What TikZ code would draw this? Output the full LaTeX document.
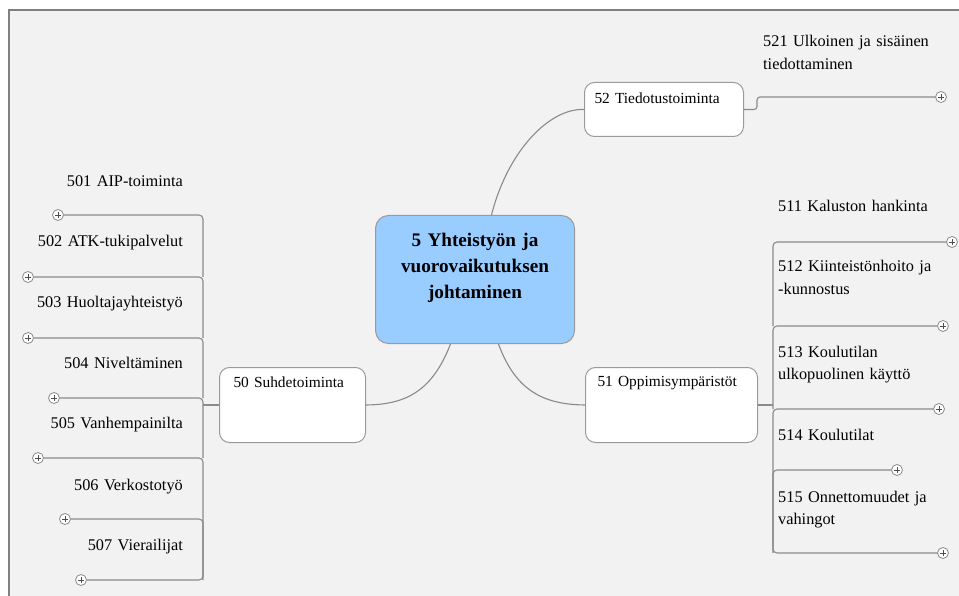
\documentclass[tikz,border=0pt]{standalone}
\usepackage{fontspec}
\setmainfont{Liberation Serif}
\usetikzlibrary{calc}

\definecolor{linegray}{HTML}{8A8A8A}
\definecolor{boxgray}{HTML}{9A9A9A}
\definecolor{hubblue}{HTML}{99CCFF}
\definecolor{canvasgray}{HTML}{F2F2F2}
\definecolor{framegray}{HTML}{808080}

\tikzset{
  branch/.style={draw=linegray, line width=1.1pt},
  hubbox/.style={draw=boxgray, fill=hubblue, rounded corners=13pt, line width=1pt,
    inner xsep=10pt, inner ysep=0pt, text width=179pt, align=center,
    text height=31pt, text depth=97pt, anchor=north west,
    font=\fontsize{19.2}{26}\selectfont\bfseries},
  topicbox/.style={draw=boxgray, fill=white, rounded corners=10pt, line width=1pt,
    inner ysep=0pt, align=left, anchor=north west,
    font=\fontsize{15.4}{20}\selectfont},
  leafright/.style={inner sep=0pt, text width=185pt, align=left, anchor=base west,
    font=\fontsize{16.3}{22.5}\selectfont},
  leafleft/.style={inner sep=0pt, text width=185pt, align=right, anchor=base east,
    font=\fontsize{16.3}{22.5}\selectfont},
  expander/.style={circle, draw=linegray, fill=white, minimum size=11pt, inner sep=0pt,
    line width=0.8pt,
    path picture={
      \draw[black!70, line width=0.8pt]
        ($(path picture bounding box.center)+(-2.8pt,0pt)$) -- ++(5.6pt,0pt)
        ($(path picture bounding box.center)+(0pt,-2.8pt)$) -- ++(0pt,5.6pt);
    }}
}

\begin{document}
\begin{tikzpicture}[x=1pt, y=-1pt]
  \useasboundingbox (0,0) rectangle (959,596);

  % canvas and its frame
  \fill[white] (0,0) rectangle (959,596);
  \fill[canvasgray] (9,10) rectangle (959,596);
  \draw[framegray, line width=1.3pt] (9,596) -- (9,10) -- (959,10);

  % central topic
  \node[hubbox] (hub) at (375,215) {5 Yhteistyön ja\\vuorovaikutuksen\\johtaminen};

  % main branches
  \node[topicbox, inner xsep=10pt, text width=139pt, text height=21pt, text depth=33pt]
    (t52) at (584,82) {52 Tiedotustoiminta};
  \node[topicbox, inner xsep=14pt, text width=118pt, text height=20pt, text depth=55pt]
    (t50) at (219,367) {50 Suhdetoiminta};
  \node[topicbox, inner xsep=12pt, text width=148pt, text height=19pt, text depth=56pt]
    (t51) at (585,367) {51 Oppimisympäristöt};

  \draw[branch] ($(hub.north)+(16.5,0)$) .. controls (508,150) and (550,108) .. (t52.west);
  \draw[branch] ($(hub.south)+(-24.5,0)$) .. controls (432,392) and (405,404.5) .. (t50.east);
  \draw[branch] ($(hub.south)+(23.5,0)$) .. controls (516,392) and (545,404.5) .. (t51.west);

  % spines of the sub-branches
  \coordinate (lspine) at (203,404);
  \coordinate (rspine) at (773,404);
  \coordinate (bend52) at (757,97);

  % 50 Suhdetoiminta
  \foreach \n/\txt/\base/\ly/\cx in {
      501/{AIP-toiminta}/187/215/58,
      502/{ATK-tukipalvelut}/247/277/28,
      503/{Huoltajayhteistyö}/308/338/28,
      504/{Niveltäminen}/368/398/54,
      505/{Vanhempainilta}/428/458/38,
      506/{Verkostotyö}/490/519/65,
      507/{Vierailijat}/550/580/81} {
    \node[leafleft] (l\n) at (183,\base) {\n\ \txt};
    \node[expander] (p\n) at (\cx,\ly) {};
  }
  \foreach \a/\b in {501/502,502/503,503/504,504/505,505/506,506/507}
    \draw[branch, rounded corners=4pt] (p\a) -| (p\b -| lspine);
  \draw[branch, rounded corners=4pt] (p507) -| (p506 -| lspine);
  \draw[branch] (t50.west) -- (t50.west -| lspine);

  % 51 Oppimisympäristöt
  \foreach \n/\txt/\base/\ly/\cx in {
      511/{Kaluston hankinta}/212/242/952,
      512/{Kiinteistönhoito ja\\-kunnostus}/272/326/943,
      513/{Koulutilan\\ulkopuolinen käyttö}/357/409/939,
      514/{Koulutilat}/440/470/897,
      515/{Onnettomuudet ja\\vahingot}/502/553/943} {
    \node[leafright] (l\n) at (778,\base) {\n\ \txt};
    \node[expander] (p\n) at (\cx,\ly) {};
  }
  \foreach \a/\b in {511/512,512/513,513/514,514/515}
    \draw[branch, rounded corners=4pt] (p\a) -| (p\b -| rspine);
  \draw[branch, rounded corners=4pt] (p515) -| (p514 -| rspine);
  \draw[branch] (t51.east) -- (t51.east -| rspine);

  % 52 Tiedotustoiminta
  \node[leafright] (l521) at (763,47) {521 Ulkoinen ja sisäinen\\tiedottaminen};
  \node[expander] (p521) at (941,97) {};
  \draw[branch, rounded corners=3pt] (t52.east) -- (t52.east -| bend52) |- (p521);
\end{tikzpicture}
\end{document}
